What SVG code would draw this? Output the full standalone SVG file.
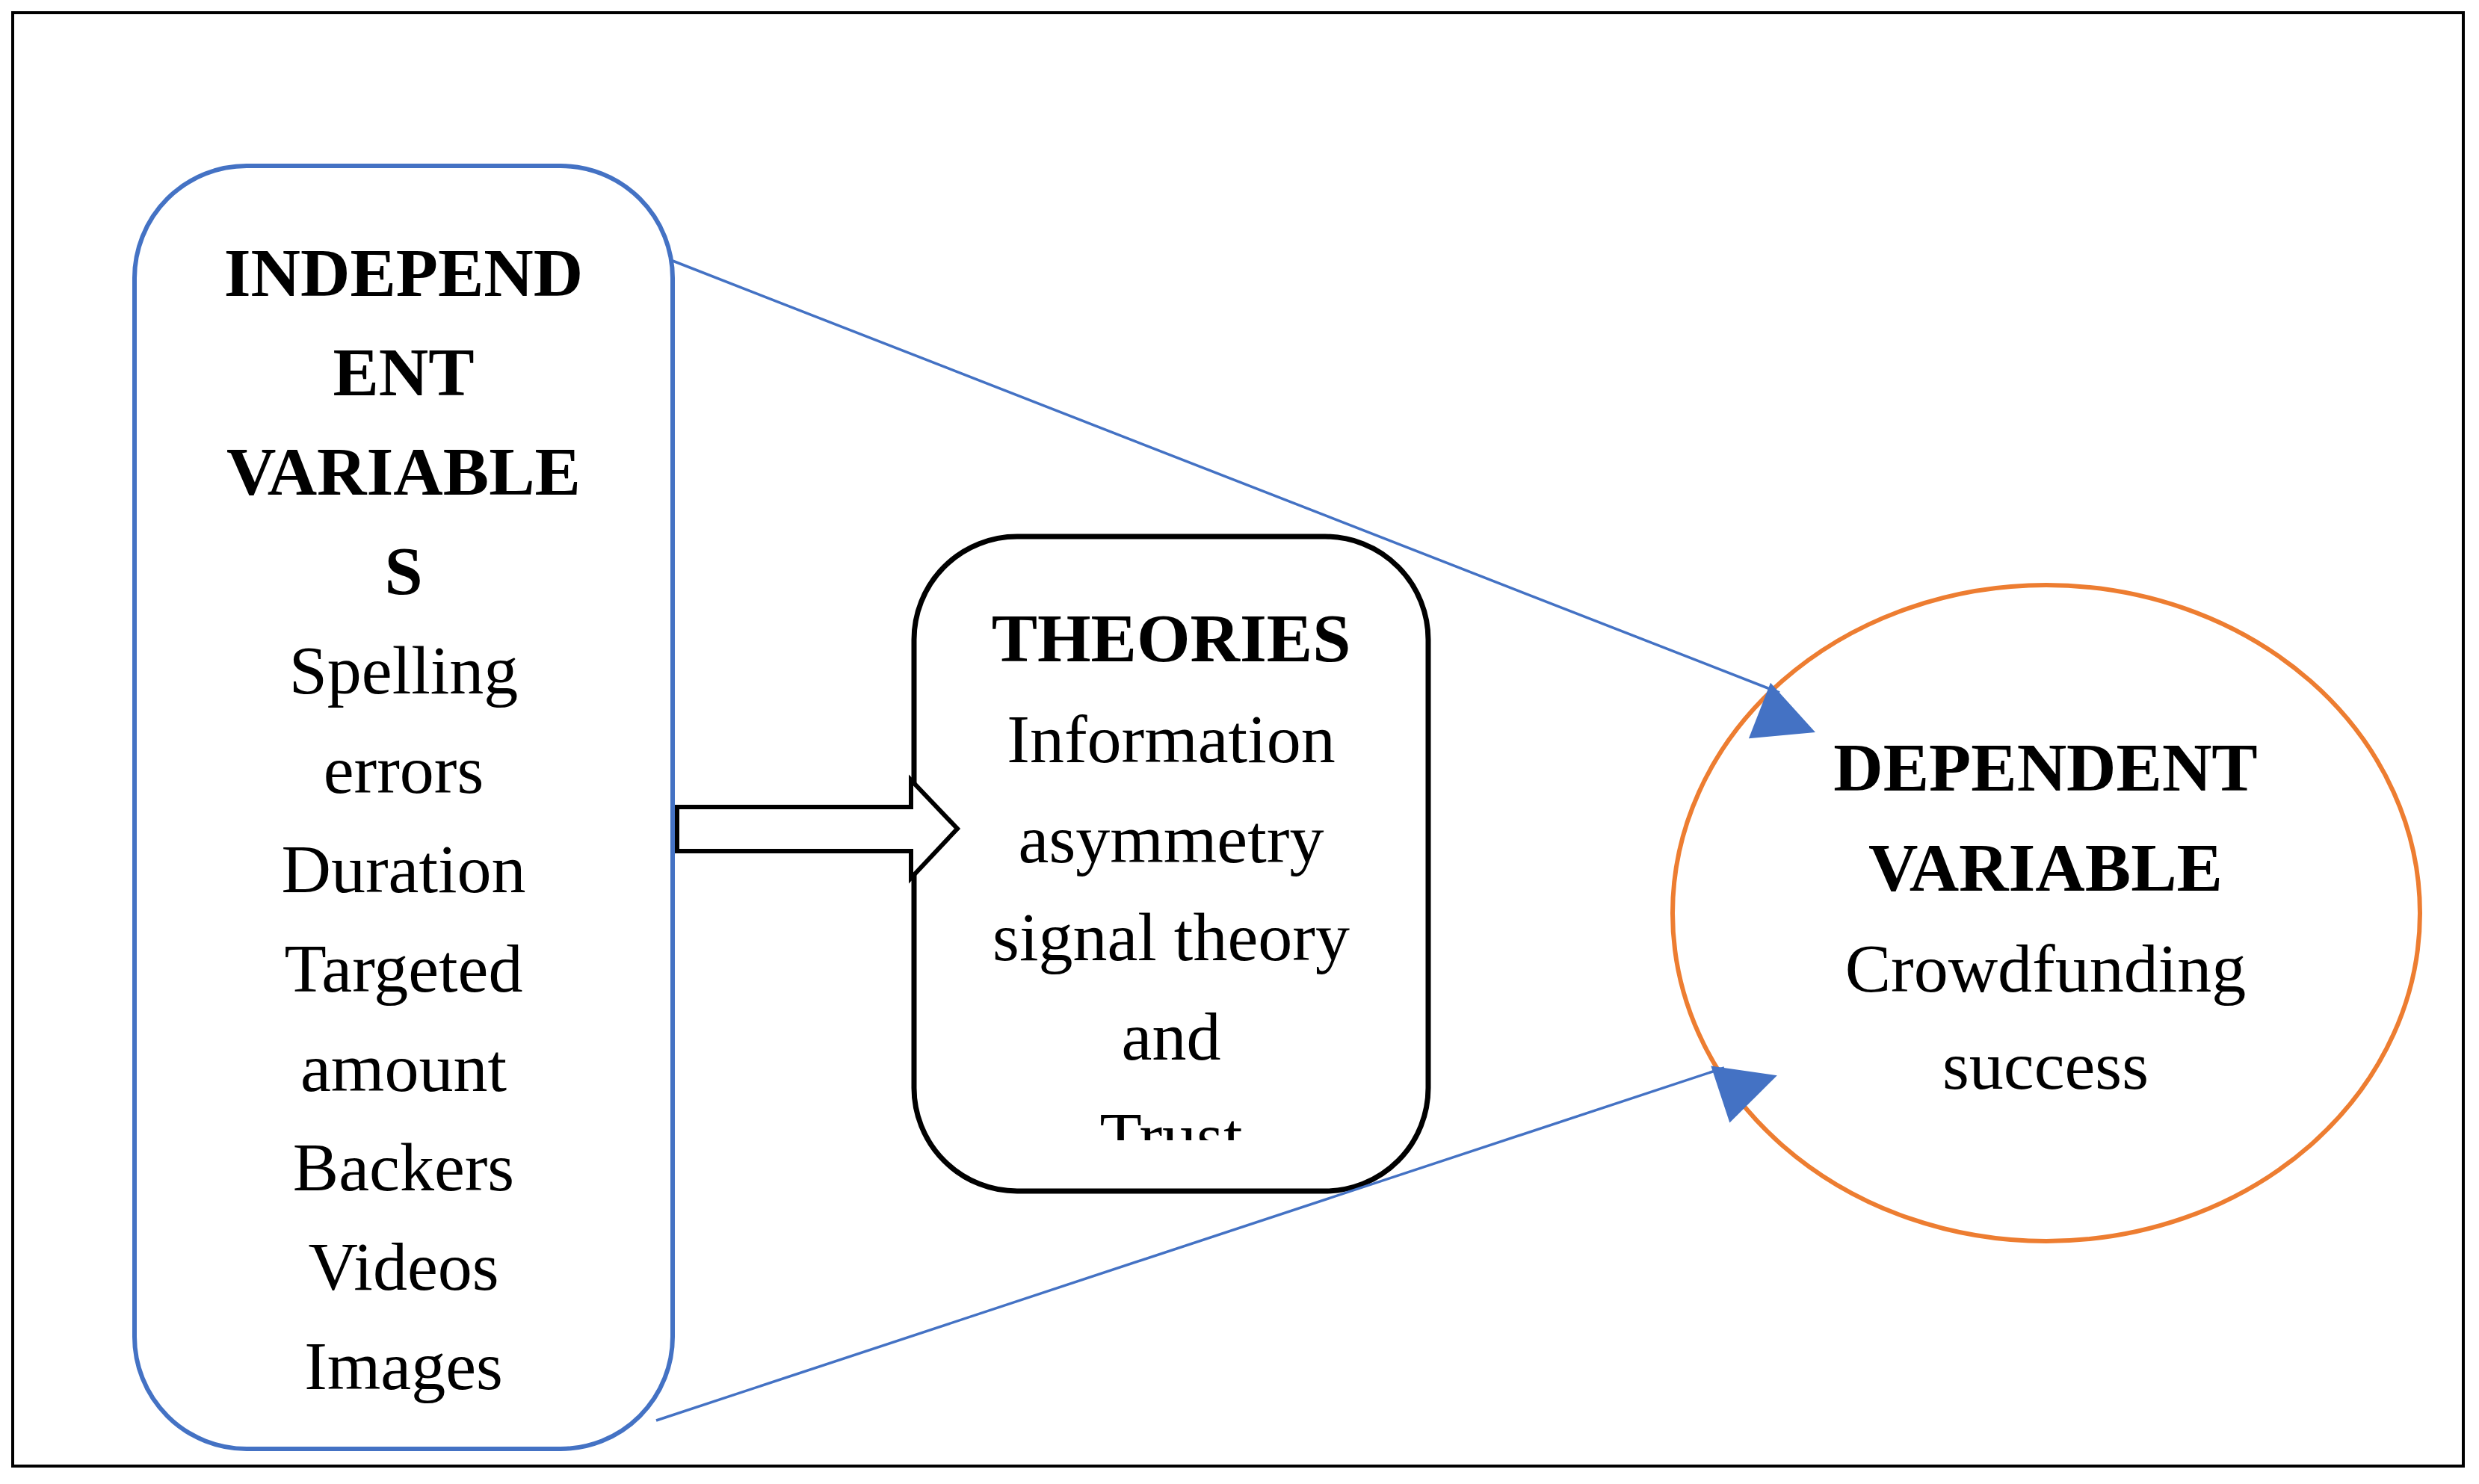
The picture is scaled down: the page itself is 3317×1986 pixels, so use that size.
<svg xmlns="http://www.w3.org/2000/svg" width="3317" height="1986" viewBox="0 0 3317 1986">
<style>
text{font-family:"Liberation Serif","Times New Roman",serif;font-size:92px;text-anchor:middle;fill:#000}
.b{font-weight:bold}
.conn{stroke:#4472C4;stroke-width:3.5;fill:none}
</style>
<defs>
<marker id="ah" viewBox="0 0 10 10" refX="10" refY="5" markerWidth="16" markerHeight="16" markerUnits="userSpaceOnUse" orient="auto" style="overflow:visible">
<path d="M0,0 L10,5 L0,10 z" fill="#4472C4" transform="scale(5)"/>
</marker>
<clipPath id="thc"><rect x="1223" y="718" width="690" height="808"/></clipPath>
</defs>
<rect x="0" y="0" width="3317" height="1986" fill="#fff"/>
<rect x="17" y="17" width="3279" height="1945" fill="none" stroke="#000" stroke-width="4"/>
<g id="independent">
<rect x="180" y="222" width="720" height="1717" rx="150" fill="#fff" stroke="#4472C4" stroke-width="6"/>
<text x="540" y="396" class="b">INDEPEND</text>
<text x="540" y="529" class="b">ENT</text>
<text x="540" y="662" class="b">VARIABLE</text>
<text x="540" y="795" class="b">S</text>
<text x="540" y="928">Spelling</text>
<text x="540" y="1061">errors</text>
<text x="540" y="1194">Duration</text>
<text x="540" y="1327">Targeted</text>
<text x="540" y="1460">amount</text>
<text x="540" y="1593">Backers</text>
<text x="540" y="1726">Videos</text>
<text x="540" y="1859">Images</text>
</g>
<g id="theories">
<rect x="1223" y="718" width="688" height="876" rx="138" fill="#fff" stroke="#000" stroke-width="7"/>
<g clip-path="url(#thc)">
<text x="1567" y="885" class="b">THEORIES</text>
<text x="1567" y="1020">Information</text>
<text x="1567" y="1154">asymmetry</text>
<text x="1567" y="1285">signal theory</text>
<text x="1567" y="1418">and</text>
<text x="1567" y="1552">Trust</text>
</g>
<rect x="1223" y="1522" width="688" height="6" fill="#fff" opacity="0"/>
</g>
<g id="dependent">
<ellipse cx="2738" cy="1222" rx="500" ry="439" fill="#fff" stroke="#ED7D31" stroke-width="6"/>
<text x="2737" y="1058" class="b">DEPENDENT</text>
<text x="2737" y="1192" class="b">VARIABLE</text>
<text x="2737" y="1327">Crowdfunding</text>
<text x="2737" y="1457">success</text>
</g>
<g id="connectors">
<path d="M906,1080 L1219,1080 L1219,1044 L1281,1109 L1219,1175 L1219,1139 L906,1139 z" fill="#fff" stroke="#000" stroke-width="6" stroke-linejoin="miter"/>
<line class="conn" x1="900" y1="349" x2="2381" y2="927" marker-end="url(#ah)"/>
<line class="conn" x1="878" y1="1901" x2="2307" y2="1429" marker-end="url(#ah)"/>
</g>
</svg>
